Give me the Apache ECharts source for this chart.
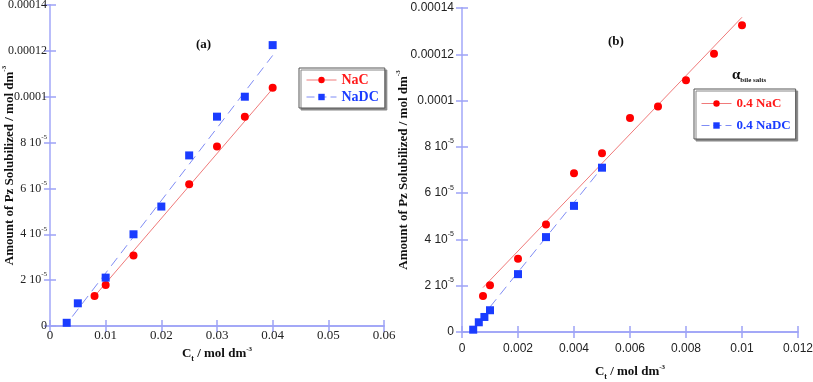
<!DOCTYPE html>
<html>
<head>
<meta charset="utf-8">
<script src="https://cdn.jsdelivr.net/npm/echarts@6/dist/echarts.min.js"></script>
<style>
  html, body { margin: 0; padding: 0; background: #fff; }
  #chart { width: 813px; height: 382px; }
</style>
</head>
<body>
<div id="chart"></div>
<script>
// panel (a): amounts in units of 1e-5 mol dm-3
var nacAx = [0.008, 0.01, 0.015, 0.025, 0.03, 0.035, 0.04];
var nacAy = [1.31, 1.79, 3.08, 6.18, 7.83, 9.13, 10.39];
var nadcAx = [0.003, 0.005, 0.01, 0.015, 0.02, 0.025, 0.03, 0.035, 0.04];
var nadcAy = [0.14, 0.99, 2.11, 4.0, 5.21, 7.44, 9.13, 10.0, 12.25];
var fitNacAx = [0.008, 0.04];
var fitNacAy = [1.3, 10.35];
var fitNadcAx = [0.004, 0.04];
var fitNadcAy = [0.41, 11.8];

// panel (b)
var nacBx = [0.00075, 0.001, 0.002, 0.003, 0.004, 0.005, 0.006, 0.007, 0.008, 0.009, 0.01];
var nacBy = [1.56, 2.02, 3.16, 4.65, 6.86, 7.72, 9.25, 9.74, 10.88, 12.02, 13.25];
var nadcBx = [0.0004, 0.0006, 0.0008, 0.001, 0.002, 0.003, 0.004, 0.005];
var nadcBy = [0.1, 0.42, 0.65, 0.94, 2.5, 4.1, 5.45, 7.1];
var fitNacBx = [0.00075, 0.01];
var fitNacBy = [1.92, 13.6];
var fitNadcBx = [0.001, 0.005];
var fitNadcBy = [1.08, 7.1];

// tick labels
var xLabelsA = ['0', '0.01', '0.02', '0.03', '0.04', '0.05', '0.06'];
var xLabelsB = ['0', '0.002', '0.004', '0.006', '0.008', '0.01', '0.012'];
var yLabels = ['0', '2 10{e|-5}', '4 10{e|-5}', '6 10{e|-5}', '8 10{e|-5}', '0.0001', '0.00012', '0.00014'];

function pairs(xs, ys) {
  return xs.map(function (x, i) { return [x, ys[i]]; });
}

var axisColor = '#9da2f6';
var serif = 'Liberation Serif';
var sans = 'Liberation Sans';

var chart = echarts.init(document.getElementById('chart'));

function xAxes(grid, max, step, labels, font, size, margin, gap) {
  return [{
    type: 'value', gridIndex: grid, min: 0, max: max, interval: step, position: 'bottom',
    axisLine: { lineStyle: { color: axisColor, width: 1.5 } },
    axisTick: { inside: true, length: 6, lineStyle: { color: axisColor, width: 1.5 } },
    splitLine: { show: false },
    axisLabel: {
      color: '#222', fontFamily: font, fontSize: size, margin: margin,
      formatter: function (v) { return labels[Math.round(v / step)]; }
    },
    name: 'C{sub|t} / mol dm{sup|-3}',
    nameLocation: 'middle', nameGap: gap, nameMoveOverlap: false,
    nameTextStyle: {
      color: '#111', fontFamily: serif, fontWeight: 'bold', fontSize: 13,
      rich: {
        sub: { fontFamily: serif, fontWeight: 'bold', fontSize: 8, padding: [10, 0, 0, 0] },
        sup: { fontFamily: serif, fontWeight: 'bold', fontSize: 7, padding: [0, 0, 10, 0] }
      }
    }
  }, {
    type: 'value', gridIndex: grid, min: 0, max: max, interval: step, position: 'top',
    axisLine: { lineStyle: { color: axisColor, width: 1.5 } },
    axisTick: { inside: true, length: 6, lineStyle: { color: axisColor, width: 1.5 } },
    axisLabel: { show: false },
    splitLine: { show: false }
  }];
}

function yAxes(grid, font, size, margin, gap) {
  return [{
    type: 'value', gridIndex: grid, min: 0, max: 14, interval: 2, position: 'left',
    axisLine: { lineStyle: { color: axisColor, width: 1.5 } },
    axisTick: { inside: true, length: 6, lineStyle: { color: axisColor, width: 1.5 } },
    splitLine: { show: false },
    axisLabel: {
      color: '#222', fontFamily: font, fontSize: size, margin: margin,
      formatter: function (v) { return yLabels[Math.round(v / 2)]; },
      rich: { e: { fontFamily: font, fontSize: 7, padding: [0, 0, 11, 0] } }
    },
    name: 'Amount of Pz Solubilized / mol dm{sup|-3}',
    nameLocation: 'middle', nameRotate: 90, nameGap: gap, nameMoveOverlap: false,
    nameTextStyle: {
      color: '#111', fontFamily: serif, fontWeight: 'bold', fontSize: 13,
      rich: { sup: { fontFamily: serif, fontWeight: 'bold', fontSize: 7, padding: [0, 0, 10, 0] } }
    }
  }, {
    type: 'value', gridIndex: grid, min: 0, max: 14, interval: 2, position: 'right',
    axisLine: { lineStyle: { color: '#b9bdfa', width: 2 } },
    axisTick: { inside: true, length: 6, lineStyle: { color: axisColor, width: 1.5 } },
    axisLabel: { show: false },
    splitLine: { show: false }
  }];
}

function pointSeries(name, xi, yi, xs, ys, symbol, color, size) {
  return {
    name: name, type: 'line', xAxisIndex: xi, yAxisIndex: yi,
    data: pairs(xs, ys), symbol: symbol, symbolSize: size, showSymbol: true,
    itemStyle: { color: color },
    lineStyle: { width: 0, opacity: 0 },
    z: 5
  };
}

function fitSeries(xi, yi, xs, ys, color, type) {
  return {
    type: 'line', xAxisIndex: xi, yAxisIndex: yi, silent: true,
    data: pairs(xs, ys), showSymbol: false, symbol: 'none',
    lineStyle: { color: color, width: 1, type: type },
    z: 3
  };
}

function legendItem(name, color, dashed) {
  return {
    name: name,
    textStyle: { color: color },
    lineStyle: { width: 1, opacity: 1, color: dashed ? '#7f8cf5' : '#f07a7a', type: dashed ? [8, 4] : 'solid' }
  };
}

var legendBase = {
  orient: 'vertical', backgroundColor: '#fff', borderColor: '#555', borderWidth: 1, borderRadius: 0,
  shadowColor: '#888', shadowOffsetX: 2, shadowOffsetY: 2, shadowBlur: 0,
  itemWidth: 30, itemHeight: 8, selectedMode: false,
  textStyle: { fontFamily: serif, fontWeight: 'bold', fontSize: 14 }
};

var option = {
  animation: false,
  backgroundColor: '#fff',
  grid: [
    { left: 50, top: 5, width: 334, height: 321, outerBoundsMode: 'none', containLabel: false },
    { left: 462, top: 8, width: 336, height: 324, outerBoundsMode: 'none', containLabel: false }
  ],
  xAxis: xAxes(0, 0.06, 0.01, xLabelsA, serif, 13, 3, 19)
    .concat(xAxes(1, 0.012, 0.002, xLabelsB, sans, 12, 11, 31)),
  yAxis: yAxes(0, serif, 12, 3, 32).concat(yAxes(1, sans, 12, 8, 50)),
  title: [
    { text: '(a)', left: 191, top: 33, textStyle: { fontFamily: serif, fontWeight: 'bold', fontSize: 13, color: '#111' } },
    { text: '(b)', left: 603, top: 30, textStyle: { fontFamily: serif, fontWeight: 'bold', fontSize: 13, color: '#111' } },
    {
      text: '{a|α}{s|bile salts}', left: 727, top: 62,
      textStyle: {
        rich: {
          a: { fontFamily: serif, fontWeight: 'bold', fontSize: 15, color: '#111' },
          s: { fontFamily: serif, fontWeight: 'bold', fontSize: 7, color: '#111', padding: [10, 0, 0, 0] }
        }
      }
    }
  ],
  legend: [
    Object.assign({}, legendBase, {
      left: 299, top: 68, padding: [5, 6, 4, 7], itemGap: 3,
      data: [legendItem('NaC', '#ff1a1a', false), legendItem('NaDC', '#1a3cff', true)]
    }),
    Object.assign({}, legendBase, {
      left: 694, top: 89, padding: [8, 5, 7, 7], itemGap: 9,
      textStyle: { fontFamily: serif, fontWeight: 'bold', fontSize: 13 },
      data: [legendItem('0.4 NaC', '#ff1a1a', false), legendItem('0.4 NaDC', '#1a3cff', true)]
    })
  ],
  series: [
    fitSeries(0, 0, fitNacAx, fitNacAy, '#f07a7a', 'solid'),
    fitSeries(0, 0, fitNadcAx, fitNadcAy, '#7f8cf5', [10, 6]),
    pointSeries('NaC', 0, 0, nacAx, nacAy, 'circle', '#ff0000', 8),
    pointSeries('NaDC', 0, 0, nadcAx, nadcAy, 'rect', '#1a3cff', 8),
    fitSeries(2, 2, fitNacBx, fitNacBy, '#f07a7a', 'solid'),
    fitSeries(2, 2, fitNadcBx, fitNadcBy, '#7f8cf5', [10, 6]),
    pointSeries('0.4 NaC', 2, 2, nacBx, nacBy, 'circle', '#ff0000', 8),
    pointSeries('0.4 NaDC', 2, 2, nadcBx, nadcBy, 'rect', '#1a3cff', 8)
  ]
};

chart.setOption(option);
</script>
</body>
</html>
